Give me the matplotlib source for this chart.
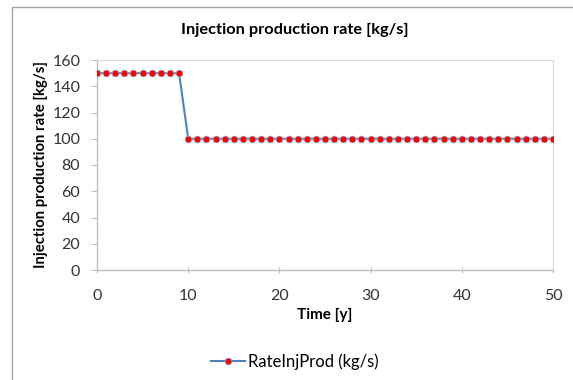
import numpy as np
import matplotlib
matplotlib.use("Agg")
import matplotlib.pyplot as plt
from matplotlib.patches import Rectangle

plt.rcParams['font.family'] = ['Lato', 'DejaVu Sans']

# Injection/production rate per year of operation
years = list(range(0, 51))
rate = [150] * 10 + [100] * 41

x_ticks = [0, 10, 20, 30, 40, 50]
y_ticks = [0, 20, 40, 60, 80, 100, 120, 140, 160]

fig = plt.figure(figsize=(5.73, 3.80), dpi=100)
fig.patch.set_facecolor('white')

# chart border
fig.patches.append(Rectangle((12 / 573, -0.01), 1.0, 1 - 7 / 380 + 0.01,
                             transform=fig.transFigure, fill=False,
                             edgecolor='#a6a6a6', linewidth=1.0))

ax = fig.add_axes([97 / 573, 1 - 270 / 380, (553 - 97) / 573, (270 - 60) / 380])

ax.plot(years, rate, color='#4f81bd', linewidth=1.5, marker='o',
        markersize=5, markerfacecolor='#ff0000', markeredgecolor='#7fd3f0',
        markeredgewidth=0.5, label='RateInjProd (kg/s)', zorder=3)

ax.set_xlim(0, 50)
ax.set_ylim(0, 160)
ax.set_xticks(x_ticks)
ax.set_yticks(y_ticks)

for side in ['top', 'right']:
    ax.spines[side].set_color('#d9d9d9')
    ax.spines[side].set_linewidth(0.8)
for side in ['left', 'bottom']:
    ax.spines[side].set_color('#bfbfbf')
    ax.spines[side].set_linewidth(1.0)

ax.tick_params(axis='y', direction='out', length=4, color='#bfbfbf',
               labelsize=11.5, labelcolor='#333333', pad=8)
ax.tick_params(axis='x', direction='inout', length=5, color='#bfbfbf',
               labelsize=11.5, labelcolor='#333333', pad=11)

ax.set_xlabel('Time [y]', fontsize=11, fontweight='bold', labelpad=4)
ax.set_ylabel('Injection production rate [kg/s]', fontsize=10.7,
              fontweight='bold', labelpad=3)

fig.text(295 / 573, 1 - 30 / 380, 'Injection production rate [kg/s]',
         ha='center', va='center', fontsize=11.8, fontweight='bold')

leg = fig.legend(loc='center', bbox_to_anchor=(295 / 573, 1 - 362 / 380),
                 frameon=False, fontsize=12, handlelength=2.0,
                 handletextpad=0.2)

fig.savefig('out.png', dpi=100)
